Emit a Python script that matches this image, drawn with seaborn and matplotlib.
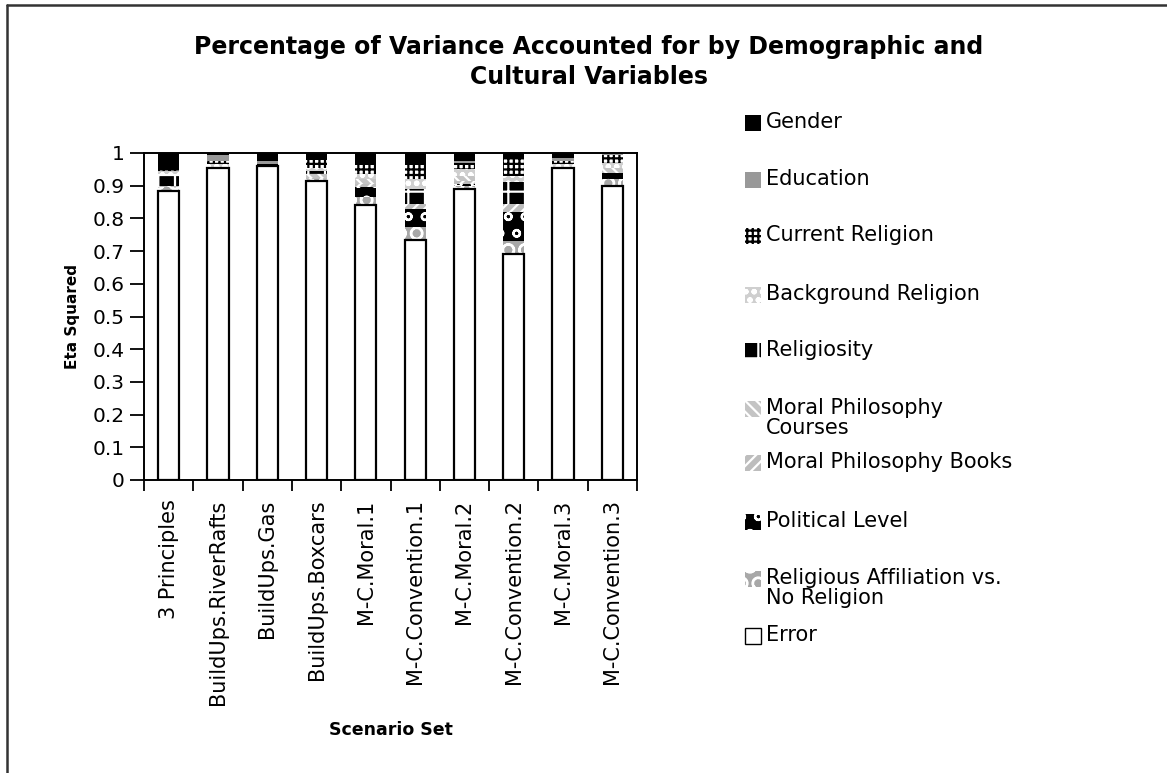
import matplotlib
matplotlib.use("Agg")
import matplotlib.pyplot as plt
import matplotlib.patches as mpatches
import matplotlib.lines as mlines
import numpy as np
import pandas as pd
import seaborn as sns

categories = ["3 Principles", "BuildUps.RiverRafts", "BuildUps.Gas", "BuildUps.Boxcars",
              "M-C.Moral.1", "M-C.Convention.1", "M-C.Moral.2", "M-C.Convention.2",
              "M-C.Moral.3", "M-C.Convention.3"]

gender      = [0.050, 0.005, 0.025, 0.020, 0.035, 0.030, 0.025, 0.015, 0.015, 0.000]
education   = [0.000, 0.020, 0.010, 0.000, 0.000, 0.000, 0.005, 0.000, 0.010, 0.005]
current_rel = [0.005, 0.010, 0.005, 0.025, 0.030, 0.050, 0.020, 0.055, 0.010, 0.025]
background  = [0.010, 0.010, 0.000, 0.010, 0.015, 0.030, 0.020, 0.020, 0.007, 0.015]
religiosity = [0.035, 0.000, 0.000, 0.010, 0.000, 0.045, 0.000, 0.065, 0.000, 0.000]
mp_courses  = [0.000, 0.000, 0.000, 0.010, 0.015, 0.000, 0.015, 0.000, 0.000, 0.015]
mp_books    = [0.005, 0.000, 0.000, 0.005, 0.010, 0.015, 0.010, 0.025, 0.000, 0.000]
political   = [0.000, 0.000, 0.000, 0.000, 0.030, 0.055, 0.005, 0.090, 0.000, 0.020]
rel_aff     = [0.010, 0.000, 0.000, 0.007, 0.025, 0.040, 0.010, 0.040, 0.005, 0.020]
error       = [0.885, 0.955, 0.960, 0.913, 0.840, 0.735, 0.890, 0.690, 0.953, 0.900]

# bottom-to-top stacking order
series_names = ["Error", "Religious Affiliation vs.\nNo Religion", "Political Level",
                "Moral Philosophy Books", "Moral Philosophy\nCourses", "Religiosity",
                "Background Religion", "Current Religion", "Education", "Gender"]
series_vals = [error, rel_aff, political, mp_books, mp_courses, religiosity,
               background, current_rel, education, gender]

y_ticks = [0, 0.1, 0.2, 0.3, 0.4, 0.5, 0.6, 0.7, 0.8, 0.9, 1]
y_tick_labels = ["0", "0.1", "0.2", "0.3", "0.4", "0.5", "0.6", "0.7", "0.8", "0.9", "1"]

# style per series: (facecolor, hatch, hatchcolor)
styles = {
    "Error": ("white", None, "black"),
    "Religious Affiliation vs.\nNo Religion": ("#a8a8a8", "O", "white"),
    "Political Level": ("black", "o", "white"),
    "Moral Philosophy Books": ("#bdbdbd", "///", "white"),
    "Moral Philosophy\nCourses": ("#c4c4c4", "\\\\\\", "white"),
    "Religiosity": ("black", "+", "white"),
    "Background Religion": ("#cfcfcf", "oo", "white"),
    "Current Religion": ("white", "+++", "black"),
    "Education": ("#999999", None, "#999999"),
    "Gender": ("black", None, "black"),
}

sns.set_style("white")
plt.rcParams["font.family"] = ["DejaVu Sans"]
plt.rcParams["hatch.linewidth"] = 1.6
for k in ["text.color", "axes.labelcolor", "xtick.color", "ytick.color", "axes.edgecolor"]:
    plt.rcParams[k] = "black"

fig = plt.figure(figsize=(11.67, 7.73), dpi=100)
W, H = 1167, 773
ax = fig.add_axes([144 / W, 1 - 480 / H, (637 - 144) / W, (480 - 153) / H])

cum = np.cumsum(np.array(series_vals), axis=0)
bar_w = 0.43
# draw cumulative totals from the top down so each series shows as its own segment
for i in range(len(series_names) - 1, -1, -1):
    name = series_names[i]
    fc, hatch, hc = styles[name]
    df = pd.DataFrame({"cat": categories, "val": cum[i]})
    if name == "Error":
        sns.barplot(data=df, x="cat", y="val", color=fc, edgecolor="black",
                    linewidth=1.6, width=bar_w, errorbar=None, saturation=1, ax=ax)
    else:
        sns.barplot(data=df, x="cat", y="val", color=fc, edgecolor=hc, hatch=hatch,
                    linewidth=0, width=bar_w, errorbar=None, saturation=1, ax=ax)

ax.set_ylim(0, 1)
ax.set_xlim(-0.5, len(categories) - 0.5)
ax.set_yticks(y_ticks)
ax.set_yticklabels(y_tick_labels)
ax.set_xticks(range(len(categories)))
ax.set_xticklabels(categories, rotation=90, va="top", ha="center")
ax.set_xticks(np.arange(-0.5, len(categories), 1.0), minor=True)
ax.tick_params(axis="x", which="major", length=0, pad=14, labelsize=15)
ax.tick_params(axis="x", which="minor", length=8, width=1.3, direction="out", bottom=True, color="black")
ax.tick_params(axis="y", which="major", length=10, width=1.3, direction="out", left=True,
               labelsize=14.5, pad=4, color="black")
for s in ax.spines.values():
    s.set_visible(True)
    s.set_linewidth(1.4)
    s.set_color("black")

ax.set_ylabel("Eta Squared", fontsize=11, fontweight="bold", labelpad=9)
ax.set_xlabel("Scenario Set", fontsize=12.5, fontweight="bold", labelpad=12)

fig.text(589 / W, 1 - 62 / H,
         "Percentage of Variance Accounted for by Demographic and\nCultural Variables",
         ha="center", va="center", fontsize=17, fontweight="bold", linespacing=1.3)

# legend (top to bottom = reverse of stacking order)
leg_y = [123, 180, 236, 295, 351, 409, 463, 522, 579, 636]
for name, yc in zip(series_names[::-1], leg_y):
    fc, hatch, hc = styles[name]
    sq = 16
    rect = mpatches.Rectangle((745 / W, 1 - (yc + sq / 2) / H), sq / W, sq / H,
                              transform=fig.transFigure, facecolor=fc,
                              edgecolor=hc if hatch else ("black" if name == "Error" else fc),
                              hatch=hatch, linewidth=1.0 if name == "Error" else 0)
    fig.patches.append(rect)
    fig.text(766 / W, 1 - (yc - 11) / H, name, ha="left", va="top",
             fontsize=15, linespacing=1.0)

# outer frame
fig.add_artist(mlines.Line2D([7 / W, 7 / W], [0, 1 - 5 / H], transform=fig.transFigure,
                             color="#333333", linewidth=1.8))
fig.add_artist(mlines.Line2D([7 / W, 1], [1 - 5 / H, 1 - 5 / H], transform=fig.transFigure,
                             color="#333333", linewidth=1.8))

fig.savefig("out.png", dpi=100)
